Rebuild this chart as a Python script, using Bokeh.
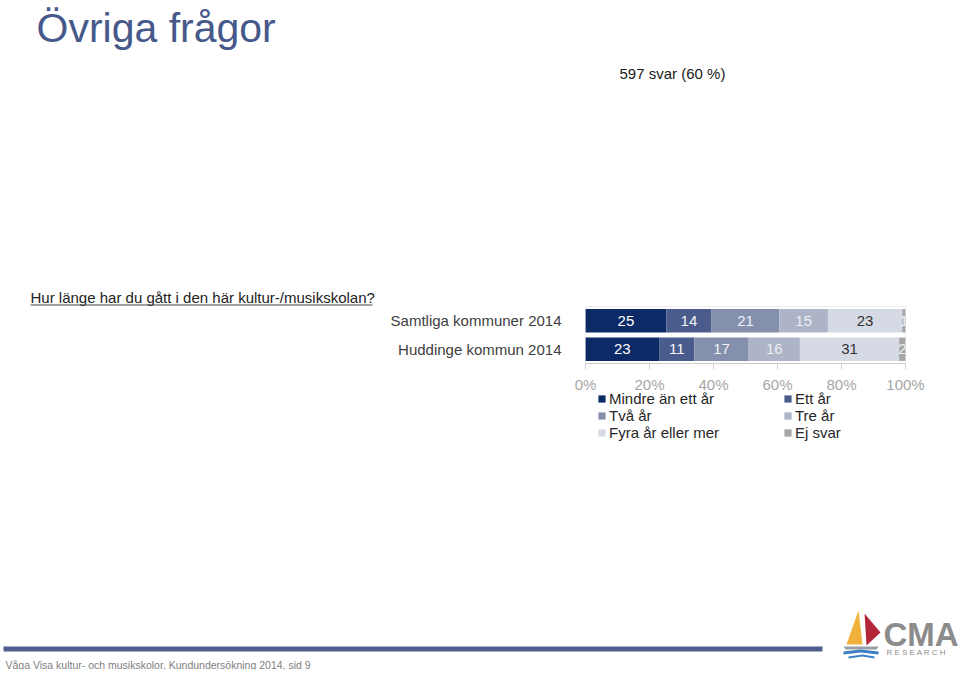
from bokeh.plotting import figure
from bokeh.models import (ColumnDataSource, FactorRange, Range1d, FixedTicker, Label,
                          Legend, LegendItem, BoxAnnotation, PolyAnnotation,
                          LinearAxis, CategoricalAxis)
from bokeh.core.properties import value
from bokeh.embed import file_html
from bokeh.resources import INLINE

# ---------------- data ----------------
groups = ["Samtliga kommuner 2014", "Huddinge kommun 2014"]
categories = ["Mindre än ett år", "Ett år", "Två år", "Tre år", "Fyra år eller mer", "Ej svar"]
samtliga = [25, 14, 21, 15, 23, 1]
huddinge = [23, 11, 17, 16, 31, 2]
ticks = [0, 20, 40, 60, 80, 100]
tick_labels = ["0%", "20%", "40%", "60%", "80%", "100%"]

title = "Övriga frågor"
answers = "597 svar (60 %)"
question = "Hur länge har du gått i den här kultur-/musikskolan?"
footer = "Våga Visa kultur- och musikskolor, Kundundersökning 2014, sid 9"

colors = ["#0c2a66", "#4a5c8c", "#8590ad", "#adb4c8", "#d6dae5", "#a6a6a6"]
label_colors = ["#ffffff", "#f4f5f8", "#eef0f4", "#eef0f4", "#333333", "#f0f0f0"]
FONT = "Liberation Sans"

# ---------------- layout (canvas pixels) ----------------
W, H = 960, 673
BOTTOM_BORDER = 4
FB = H - BOTTOM_BORDER           # frame bottom in canvas pixels
X0PX, X100PX = 585, 905          # where 0 % and 100 % fall
PX_PER_UNIT = (X100PX - X0PX) / 100.0
ROW_PX = 28.5                    # pixels per category row
pad = (FB / ROW_PX - len(groups)) / 2.0

p = figure(width=W, height=H, output_backend="svg", toolbar_location=None,
           x_range=Range1d(-X0PX / PX_PER_UNIT, (W - X0PX) / PX_PER_UNIT),
           y_range=FactorRange(*groups[::-1], range_padding=pad,
                               range_padding_units="absolute"),
           x_axis_location=None, y_axis_location=None,
           min_border=0, min_border_bottom=BOTTOM_BORDER)
p.background_fill_color = "white"
p.border_fill_color = "white"
p.outline_line_color = None
p.grid.visible = False

# plot-area border
p.add_layout(BoxAnnotation(left=0, right=100, bottom=0, top=len(groups),
                           fill_alpha=0, line_color="#c8c8c8", line_width=1))

# normalized stacked bars
rows = {"Samtliga kommuner 2014": samtliga, "Huddinge kommun 2014": huddinge}
data = {"grp": groups}
for i, c in enumerate(categories):
    data[c] = [rows[g][i] * 100.0 / sum(rows[g]) for g in groups]
src = ColumnDataSource(data)
renderers = p.hbar_stack(categories, y="grp", height=0.82, color=colors, source=src,
                         line_color=None)

# segment labels
tx, ty, tt, tc = [], [], [], []
for g in groups:
    vals = rows[g]
    tot = sum(vals)
    cum = 0.0
    for i, v in enumerate(vals):
        w = v * 100.0 / tot
        tx.append(cum + w / 2)
        ty.append(g)
        tt.append(str(v))
        tc.append(label_colors[i])
        cum += w
p.text(x="x", y="y", text="t", text_color="c",
       source=ColumnDataSource(dict(x=tx, y=ty, t=tt, c=tc)),
       text_align="center", text_baseline="middle", text_font=value(FONT),
       text_font_size="15px")

# axes (fixed inside the canvas)
xa = LinearAxis(fixed_location=0, bounds=(0, 100))
xa.ticker = FixedTicker(ticks=ticks)
xa.major_label_overrides = {t: l for t, l in zip(ticks, tick_labels)}
xa.major_label_text_font = FONT
xa.major_label_text_font_size = "15px"
xa.major_label_text_color = "#a6a6a6"
xa.axis_line_color = "#d0d0d0"
xa.major_tick_line_color = "#d0d0d0"
xa.major_tick_out = 6
xa.major_tick_in = 0
xa.minor_tick_line_color = None
xa.major_label_standoff = 6
p.add_layout(xa, "below")

ya = CategoricalAxis(fixed_location=0)
ya.axis_line_color = None
ya.major_tick_line_color = None
ya.major_tick_out = 0
ya.major_tick_in = 0
ya.minor_tick_line_color = None
ya.major_label_text_font = FONT
ya.major_label_text_font_size = "15px"
ya.major_label_text_color = "#404040"
ya.major_label_standoff = 24
p.add_layout(ya, "left")

# legend (column-major filling -> order items so rows read as in the reference)
order = [0, 2, 4, 1, 3, 5]
items = [LegendItem(label=categories[i], renderers=[renderers[i]]) for i in order]
legend = Legend(items=items, location=(597, FB - 441), ncols=2,
                glyph_width=9, glyph_height=9, label_standoff=3, label_width=174,
                label_height=16, spacing=0, padding=0, margin=0,
                label_text_font=FONT, label_text_font_size="15px",
                label_text_color="#262626", border_line_color=None,
                background_fill_alpha=0)
p.add_layout(legend, "center")


def lab(text, cx, cy, size, color, align="left", style="normal"):
    p.add_layout(Label(x=cx, y=FB - cy, x_units="screen", y_units="screen",
                       text=text, text_font=FONT, text_font_size=size,
                       text_color=color, text_align=align, text_baseline="middle",
                       text_font_style=style))


def poly(xs, ys, color):
    p.add_layout(PolyAnnotation(xs=list(xs), ys=[FB - y for y in ys],
                                xs_units="screen", ys_units="screen",
                                fill_color=color, fill_alpha=1, line_color=None))


lab(title, 36, 27, "41px", "#46598a")
lab(answers, 619, 73, "15px", "#1a1a1a")
lab(question, 30, 297, "15px", "#222222")
poly([30, 372, 372, 30], [304, 304, 305, 305], "#444444")

# footer
poly([3, 822, 822, 3], [646, 646, 651, 651], "#4e5f8f")
lab(footer, 5, 664, "10.5px", "#808080")

# logo
poly([858, 846, 862], [610, 644, 644], "#f0b23a")
poly([864, 880, 866], [613, 632, 645], "#b3263a")
poly([843, 878, 876, 845], [646, 646, 649, 649], "#9aa0a8")
poly([843, 860, 878, 878, 860, 843], [651, 649, 651, 654, 652, 654], "#3b7fc4")
poly([848, 862, 874, 874, 862, 848], [656, 654, 656, 658, 656, 658], "#3b7fc4")
lab("CMA", 883, 634, "33px", "#8c8c8c", style="bold")
lab("R E S E A R C H", 886, 652, "8px", "#8c8c8c")

open("out.html", "w").write(file_html(p, INLINE))
